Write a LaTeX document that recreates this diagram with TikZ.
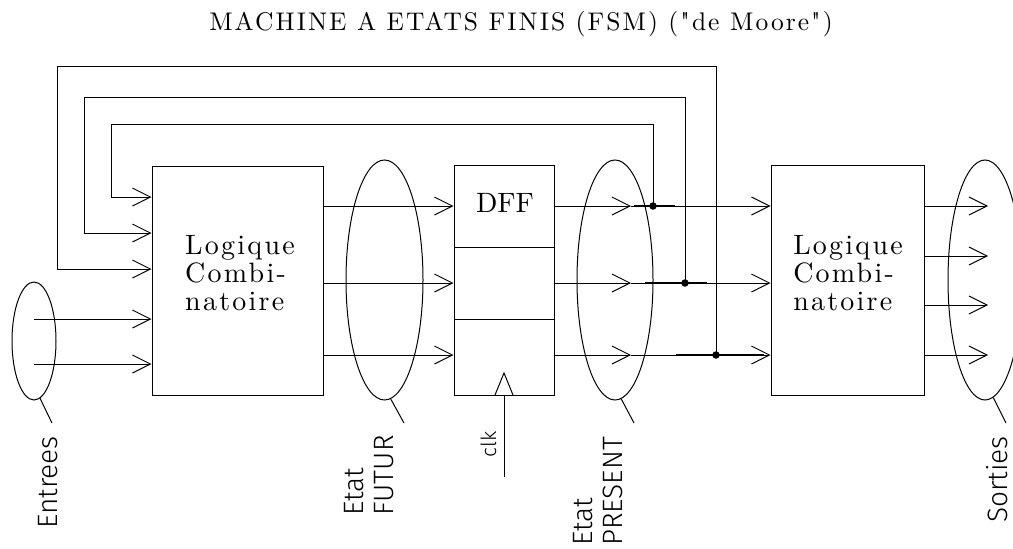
\documentclass[tikz,border=0pt]{standalone}
\usepackage{fontspec}
\newfontfamily\labsans{Fira Sans Light}
\newfontfamily\serifsp{lmroman10-regular.otf}[LetterSpace=8]
\newfontfamily\serifti{lmroman10-regular.otf}[LetterSpace=8]
\newfontfamily\serifpl{lmroman10-regular.otf}
\usetikzlibrary{arrows.meta,shapes.geometric}
\tikzset{
  wire/.style={line width=1pt,black},
  heavy/.style={line width=1.6pt,black},
  arr/.style={wire,-{Straight Barb[length=18pt,width=18pt,line width=1pt]}},
  blk/.style={draw,line width=1pt,rectangle,inner sep=0pt},
  bus/.style={draw,line width=1pt,ellipse,inner sep=0pt},
  dot/.style={circle,fill=black,inner sep=0pt,minimum size=7.5pt},
  blktext/.style={font=\serifsp\fontsize{28}{28}\selectfont,align=left,inner sep=0pt},
  lab/.style={font=\labsans\fontsize{28}{30}\selectfont,rotate=90,inner sep=0pt,align=left},
}
\begin{document}
\begin{tikzpicture}[x=1pt,y=-1pt]
\useasboundingbox (0,0) rectangle (1013,549);
% title
\node[font=\serifti\fontsize{25.5}{26}\selectfont,anchor=base,inner sep=0pt] (title) at (521,30) {MACHINE A ETATS FINIS (FSM) ("de Moore")};
% blocks
\node[blk,minimum width=171pt,minimum height=229pt] (lc1) at (237.5,280.5) {};
\node[blk,minimum width=100pt,minimum height=230pt] (dff) at (504,280) {};
\node[blk,minimum width=153pt,minimum height=230pt] (lc2) at (847.5,280) {};
\node[blktext] (t1) at (240,273) {Logique\\Combi-\\natoire};
\node[blktext] (t2) at (848,273) {Logique\\Combi-\\natoire};
\node[font=\serifpl\fontsize{28}{28}\selectfont,inner sep=0pt,anchor=base] (dfft) at (505,212) {DFF};
\coordinate (dv1l) at (454,247); \coordinate (dv1r) at (554,247);
\coordinate (dv2l) at (454,319); \coordinate (dv2r) at (554,319);
\draw[wire] (dv1l) -- (dv1r);
\draw[wire] (dv2l) -- (dv2r);
% clock
\coordinate (ckl) at (495,395); \coordinate (ckt) at (504,373); \coordinate (ckr) at (513,395);
\draw[wire] (ckl) -- (ckt) -- (ckr);
\coordinate (ckend) at (504,477);
\draw[wire] (dff.south) -- (ckend);
% ellipses
\node[bus,minimum width=44pt,minimum height=118pt] (ein) at (34,341) {};
\node[bus,minimum width=77pt,minimum height=240pt] (efut) at (384.5,280) {};
\node[bus,minimum width=76pt,minimum height=240pt] (epres) at (615,280) {};
\node[bus,minimum width=74pt,minimum height=240pt] (esort) at (985,280) {};
% inputs
\coordinate (i1) at (34,319); \coordinate (i2) at (34,364);
\draw[arr] (i1) -- (lc1.west |- i1);
\draw[arr] (i2) -- (lc1.west |- i2);
% lc1 -> dff
\foreach \y/\n in {206/a,283/b,355/c}{
  \coordinate (o\n) at (323,\y);
  \draw[arr] (o\n) -- (dff.west |- o\n);
}
% dff -> present -> lc2
\foreach \y/\n in {206/a,283/b,355/c}{
  \coordinate (q\n) at (554,\y);
  \coordinate (p\n) at (631,\y);
  \draw[arr] (q\n) -- (p\n);
  \draw[arr] (p\n) -- (lc2.west |- p\n);
}
% junctions
\node[dot] (ja) at (653,206) {};
\node[dot] (jb) at (685,283) {};
\node[dot] (jc) at (716,355) {};
\coordinate (ha1) at (634,206); \coordinate (ha2) at (675,206);
\coordinate (hb1) at (645,283); \coordinate (hb2) at (707,283);
\coordinate (hc1) at (676,355); \coordinate (hc2) at (764,355);
\draw[heavy] (ha1) -- (ha2);
\draw[heavy] (hb1) -- (hb2);
\draw[heavy] (hc1) -- (hc2);
% feedback
\coordinate (fa1) at (653,124); \coordinate (fa2) at (111,124); \coordinate (fa3) at (111,197);
\coordinate (fb1) at (685,97); \coordinate (fb2) at (84,97); \coordinate (fb3) at (84,233);
\coordinate (fc1) at (716,66); \coordinate (fc2) at (57,66); \coordinate (fc3) at (57,269);
\draw[arr] (ja.center) -- (fa1) -- (fa2) -- (fa3) -- (lc1.west |- fa3);
\draw[arr] (jb.center) -- (fb1) -- (fb2) -- (fb3) -- (lc1.west |- fb3);
\draw[arr] (jc.center) -- (fc1) -- (fc2) -- (fc3) -- (lc1.west |- fc3);
% outputs
\foreach \y/\n in {206/a,256/b,305/c,355/d}{
  \coordinate (s\n) at (988,\y);
  \draw[arr] (lc2.east |- s\n) -- (s\n);
}
% labels
\coordinate (lE) at (52,423);
\coordinate (lF) at (404,423);
\coordinate (lP) at (634,423);
\coordinate (lS) at (1006,423);
\draw[wire] (ein.276) -- (lE);
\draw[wire] (efut.273) -- (lF);
\draw[wire] (epres.273) -- (lP);
\draw[wire] (esort.274) -- (lS);
\node[lab,anchor=base west] (tE) at (57,529) {Entrees};
\node[lab,anchor=base west] (tF) at (393,516) {Etat\\FUTUR};
\node[lab,anchor=base west] (tP) at (622,546) {Etat\\PRESENT};
\node[lab,anchor=base west] (tS) at (1007,523) {Sorties};
\node[lab,anchor=base west,font=\labsans\fontsize{21}{21}\selectfont] (tC) at (496,458) {clk};
\end{tikzpicture}
\end{document}
